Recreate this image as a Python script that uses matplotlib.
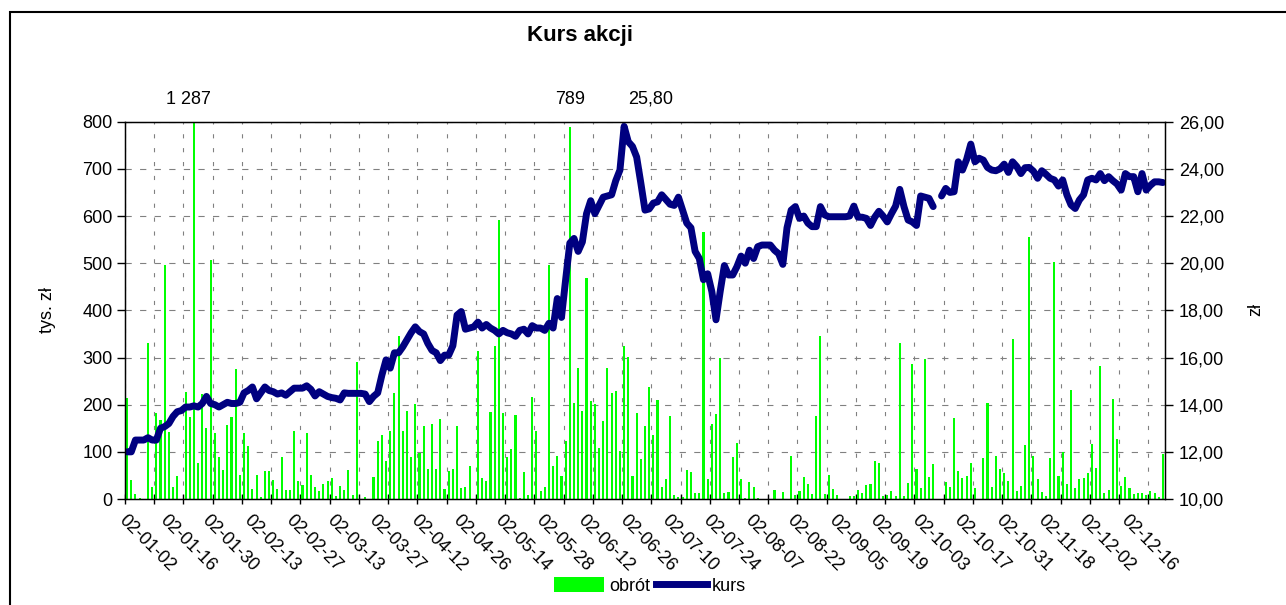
# Kurs akcji: daily turnover (bars, left axis) and share price (line, right axis), 2002
import matplotlib
matplotlib.use("Agg")

import matplotlib.pyplot as plt
import numpy as np
from matplotlib.lines import Line2D
from matplotlib.patches import Patch, Rectangle

plt.rcParams["font.family"] = ["Liberation Sans", "DejaVu Sans"]
plt.rcParams["lines.scale_dashes"] = False

# daily turnover, thousand PLN (one value per trading day)
OBROT = [
    215, 40, 11, 3, 0, 330, 25, 182, 168, 496,
    142, 26, 49, 0, 227, 173, 1287, 77, 223, 150,
    506, 141, 88, 61, 157, 173, 276, 51, 139, 112,
    22, 51, 5, 60, 60, 40, 22, 88, 19, 19,
    144, 39, 30, 139, 51, 26, 17, 32, 38, 45,
    6, 28, 19, 61, 8, 290, 0, 5, 0, 47,
    123, 136, 81, 144, 224, 346, 144, 187, 88, 201,
    97, 155, 63, 160, 64, 169, 21, 60, 64, 155,
    23, 26, 70, 0, 314, 45, 38, 185, 324, 592,
    183, 90, 105, 178, 3, 58, 8, 217, 144, 17,
    26, 496, 70, 91, 49, 122, 789, 204, 278, 187,
    469, 208, 201, 109, 165, 278, 225, 229, 102, 324,
    302, 49, 182, 84, 155, 238, 136, 210, 26, 42,
    176, 8, 5, 4, 61, 57, 13, 12, 567, 42,
    160, 180, 300, 13, 14, 88, 118, 42, 3, 35,
    26, 3, 0, 0, 0, 19, 0, 14, 0, 91,
    8, 16, 46, 31, 11, 176, 346, 10, 51, 21,
    8, 0, 0, 7, 7, 19, 13, 30, 32, 81,
    76, 7, 8, 16, 6, 330, 6, 33, 286, 64,
    24, 297, 47, 74, 0, 0, 35, 25, 171, 59,
    45, 49, 77, 24, 0, 86, 203, 26, 91, 63,
    56, 38, 339, 17, 28, 114, 555, 91, 42, 14,
    7, 86, 502, 49, 100, 31, 231, 24, 42, 44,
    56, 116, 65, 282, 13, 19, 212, 127, 28, 47,
    24, 11, 12, 12, 8, 16, 13, 5, 95,
]

# closing price, PLN (nan = no quote that day)
KURS = [
    12.0, 12.0, 12.5, 12.5, 12.5, 12.6, 12.5, 12.5, 13.0, 13.07,
    13.2, 13.5, 13.7, 13.75, 13.9, 13.9, 13.95, 13.9, 14.05, 14.35,
    14.05, 14.0, 13.9, 14.0, 14.1, 14.05, 14.05, 14.1, 14.5, 14.6,
    14.75, 14.25, 14.5, 14.75, 14.6, 14.55, 14.45, 14.5, 14.4, 14.55,
    14.7, 14.7, 14.7, 14.8, 14.65, 14.37, 14.55, 14.45, 14.35, 14.3,
    14.27, 14.2, 14.5, 14.48, 14.48, 14.48, 14.48, 14.45, 14.13, 14.35,
    14.5, 15.25, 15.9, 15.55, 16.2, 16.2, 16.45, 16.75, 17.05, 17.3,
    17.1, 17.0, 16.6, 16.3, 16.2, 15.87, 16.1, 16.1, 16.5, 17.8,
    17.95, 17.2, 17.25, 17.3, 17.5, 17.25, 17.4, 17.25, 17.15, 17.0,
    17.15, 17.05, 17.0, 16.9, 17.15, 17.2, 17.0, 17.35, 17.25, 17.25,
    17.15, 17.45, 17.25, 18.5, 17.7, 19.3, 20.85, 21.05, 20.5, 20.9,
    22.1, 22.65, 22.1, 22.45, 22.8, 22.85, 22.9, 23.5, 23.95, 25.8,
    25.15, 24.95, 24.5, 23.4, 22.25, 22.3, 22.55, 22.6, 22.9, 22.7,
    22.5, 22.45, 22.8, 22.25, 21.7, 21.5, 20.5, 20.2, 19.3, 19.55,
    18.8, 17.6, 18.8, 19.9, 19.5, 19.5, 19.85, 20.3, 20.0, 20.55,
    20.2, 20.7, 20.77, 20.77, 20.77, 20.55, 20.4, 19.95, 21.5, 22.25,
    22.4, 21.9, 22.0, 21.7, 21.55, 21.55, 22.4, 22.05, 21.97, 21.97,
    21.97, 21.97, 21.97, 22.0, 22.42, 21.95, 21.95, 21.9, 21.6, 21.95,
    22.2, 22.0, 21.75, 22.1, 22.42, 23.13, 22.4, 21.83, 21.75, 21.6,
    22.85, 22.8, 22.75, 22.4, np.nan, 22.85, 23.17, 23.0, 23.03, 24.3,
    23.95, 24.4, 25.05, 24.3, 24.45, 24.37, 24.06, 23.95, 23.92, 24.0,
    24.2, 23.85, 24.3, 24.1, 23.8, 24.05, 24.06, 23.9, 23.6, 23.92,
    23.77, 23.6, 23.53, 23.27, 23.53, 22.9, 22.47, 22.32, 22.68, 22.9,
    23.53, 23.6, 23.53, 23.8, 23.5, 23.67, 23.5, 23.36, 23.1, 23.8,
    23.67, 23.67, 23.03, 23.8, 23.1, 23.3, 23.45, 23.45, 23.42,
]

# category labels, shown every LABEL_STEP trading days
TICK_LABELS = [
    "02-01-02", "02-01-16", "02-01-30", "02-02-13", "02-02-27",
    "02-03-13", "02-03-27", "02-04-12", "02-04-26", "02-05-14",
    "02-05-28", "02-06-12", "02-06-26", "02-07-10", "02-07-24",
    "02-08-07", "02-08-22", "02-09-05", "02-09-19", "02-10-03",
    "02-10-17", "02-10-31", "02-11-18", "02-12-02", "02-12-16",
]
LABEL_STEP = 10
TICK_STEP = 7

# bars that carry a value label
LABELED_BARS = [16, 106]

BAR_COLOR = "#00FF00"
LINE_COLOR = "#000080"
GRID_COLOR = "#808080"

W, H = 1286, 605
fig = plt.figure(figsize=(W / 100, H / 100), dpi=100)
ax = fig.add_axes([125 / W, 1 - 499 / H, 1040 / W, 377.3 / H])
ax2 = ax.twinx()

n = len(OBROT)
x = np.arange(n)

# %% bars + line
ax.bar(x, OBROT, width=0.5, color=BAR_COLOR, zorder=2)
ax2.plot(x, KURS, color=LINE_COLOR, lw=5,
         solid_joinstyle="round", solid_capstyle="round")

ax.set_xlim(-0.5, n - 0.5)
ax.set_ylim(0, 800)
ax2.set_ylim(10, 26)

# %% axes / ticks
ax.set_yticks(np.arange(0, 801, 100))
ax2.set_yticks(np.arange(10, 27, 2))
ax2.set_yticklabels([f"{v:.2f}".replace(".", ",") for v in np.arange(10, 27, 2)])

# tick marks + vertical grid between categories, labels on categories
ax.set_xticks(np.arange(-0.5, n, TICK_STEP))
ax.set_xticklabels([])
label_pos = np.arange(0, LABEL_STEP * len(TICK_LABELS), LABEL_STEP)
ax.set_xticks(label_pos, TICK_LABELS, minor=True)
plt.setp(ax.get_xticklabels(minor=True), rotation=-45, ha="left", va="top",
         rotation_mode="anchor")

ax.tick_params(axis="x", which="major", direction="inout", length=7, width=1)
ax.tick_params(axis="x", which="minor", length=0, pad=9, labelsize=13)
ax.tick_params(axis="y", direction="out", length=6, width=1, pad=3, labelsize=13)
ax2.tick_params(axis="y", direction="out", length=6, width=1, pad=4, labelsize=13)

ax.set_axisbelow(True)
ax.grid(axis="y", color=GRID_COLOR, lw=0.8, linestyle=(0, (4.5, 6)))
ax.grid(axis="x", which="major", color=GRID_COLOR, lw=0.8, linestyle=(0, (3, 7)))

for sp in ax2.spines.values():
    sp.set_color("black")
    sp.set_linewidth(1)

# %% data labels
for i in LABELED_BARS:
    txt = f"{OBROT[i]:,}".replace(",", " ")
    ax.annotate(txt, xy=(i, 800), xytext=(-4 if OBROT[i] > 800 else 0, 16),
                textcoords="offset points", ha="center", va="center", fontsize=13)

imax = int(np.nanargmax(KURS))
ax2.annotate(f"{KURS[imax]:.2f}".replace(".", ","), xy=(imax, 26), xytext=(19, 16),
             textcoords="offset points", ha="center", va="center", fontsize=13)

# %% texts
fig.text(580 / W, 1 - 35 / H, "Kurs akcji", ha="center", va="center",
         fontsize=16, fontweight="bold")
fig.text(47 / W, 1 - 310 / H, "tys. zł", rotation=90, ha="center", va="center",
         fontsize=13)
fig.text(1256 / W, 1 - 310 / H, "zł", rotation=90, ha="center", va="center",
         fontsize=13)

handles = [Patch(facecolor=BAR_COLOR), Line2D([], [], color=LINE_COLOR, lw=5)]
fig.legend(handles, ["obrót", "kurs"], loc="center", bbox_to_anchor=(650 / W, 1 - 586 / H),
           ncol=2, frameon=False, fontsize=13, handlelength=2.8, handleheight=0.9,
           handletextpad=0.3, columnspacing=0.3)

# chart area border (cropped on right and bottom)
fig.patches.append(Rectangle((10 / W, -0.1), 1.2, 1.1 - 12 / H, transform=fig.transFigure,
                             fill=False, edgecolor="black", lw=1.5))

fig.savefig("out.png", dpi=100)
